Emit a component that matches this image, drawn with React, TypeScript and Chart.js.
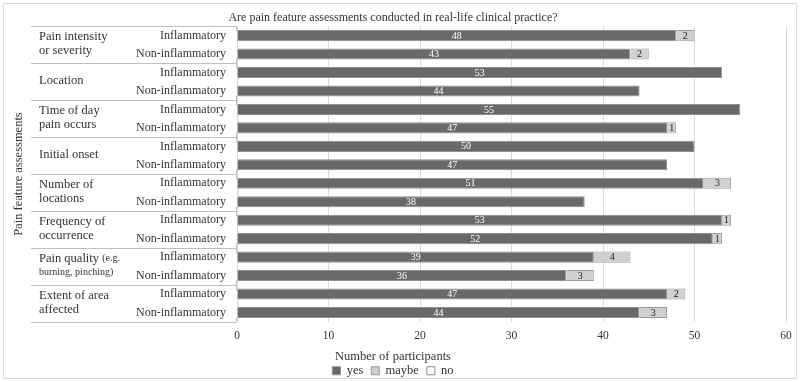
import { useEffect, useRef } from 'react';
import { Chart, registerables } from 'chart.js';

Chart.register(...registerables);

const FONT = "'Liberation Serif', 'Times New Roman', serif";

const chartTitle = 'Are pain feature assessments conducted in real-life clinical practice?';
const axisTitleX = 'Number of participants';
const axisTitleY = 'Pain feature assessments';

const groupLabels: string[][] = [
  ['Pain intensity', 'or severity'],
  ['Location'],
  ['Time of day', 'pain occurs'],
  ['Initial onset'],
  ['Number of', 'locations'],
  ['Frequency of', 'occurrence'],
  ['Pain quality (e.g.', 'burning, pinching)'],
  ['Extent of area', 'affected'],
];
const subgroups = ['Inflammatory', 'Non-inflammatory'];

const yesValues = [48, 43, 53, 44, 55, 47, 50, 47, 51, 38, 53, 52, 39, 36, 47, 44];
const maybeValues = [2, 2, 0, 0, 0, 1, 0, 0, 3, 0, 1, 1, 4, 3, 2, 3];
const noValues = [0, 0, 0, 0, 0, 0, 0, 0, 0, 0, 0, 0, 0, 0, 0, 0];

const xMin = 0;
const xMax = 60;
const xStep = 10;

const rowLabels = groupLabels.flatMap(() => subgroups);

const TEXT = '#333333';

// Draws a label line where text inside parentheses is set in a smaller size
function drawRichLine(
  ctx: CanvasRenderingContext2D,
  line: string,
  x: number,
  y: number,
  state: { paren: boolean },
) {
  let cur = x;
  let buf = '';
  const flush = () => {
    if (!buf) return;
    ctx.font = state.paren ? `10px ${FONT}` : `12.5px ${FONT}`;
    ctx.fillText(buf, cur, y);
    cur += ctx.measureText(buf).width;
    buf = '';
  };
  for (const ch of line) {
    if (ch === '(') {
      flush();
      state.paren = true;
      buf += ch;
    } else if (ch === ')') {
      buf += ch;
      flush();
      state.paren = false;
    } else {
      buf += ch;
    }
  }
  flush();
}

const decorPlugin = {
  id: 'decor',
  beforeDraw(chart: any) {
    const { ctx, width, height } = chart;
    ctx.save();
    ctx.strokeStyle = '#d9d9d9';
    ctx.lineWidth = 1;
    ctx.strokeRect(3.5, 3.5, width - 7, height - 7);
    ctx.restore();
  },
  afterDatasetsDraw(chart: any) {
    const { ctx } = chart;
    ctx.save();
    ctx.font = `10px ${FONT}`;
    ctx.textAlign = 'center';
    ctx.textBaseline = 'middle';
    chart.data.datasets.forEach((ds: any, di: number) => {
      if (di > 1) return;
      const meta = chart.getDatasetMeta(di);
      meta.data.forEach((bar: any, i: number) => {
        const v = ds.data[i];
        if (!v) return;
        const cx = (bar.x + bar.base) / 2;
        ctx.fillStyle = di === 0 ? '#ffffff' : '#222222';
        ctx.fillText(String(v), cx, bar.y + 0.5);
      });
    });
    ctx.restore();
  },
  afterDraw(chart: any) {
    const { ctx, chartArea } = chart;
    const yScale = chart.scales.y;
    const left = 31;
    const right = chartArea.left - 0.5;
    ctx.save();
    ctx.strokeStyle = '#bfbfbf';
    ctx.lineWidth = 1;
    for (let g = 0; g <= groupLabels.length; g++) {
      const y = Math.round(yScale.getPixelForValue(g * 2 - 0.5)) + 0.5;
      ctx.beginPath();
      ctx.moveTo(left, y);
      ctx.lineTo(right, y);
      const t0 = Math.max(y - 5, chartArea.top);
      const t1 = Math.min(y + 5, chartArea.bottom);
      ctx.moveTo(right, t0);
      ctx.lineTo(right, t1);
      ctx.stroke();
    }
    ctx.fillStyle = TEXT;
    ctx.textAlign = 'left';
    ctx.textBaseline = 'middle';
    groupLabels.forEach((lines, g) => {
      const top = yScale.getPixelForValue(g * 2 - 0.5);
      const bottom = yScale.getPixelForValue(g * 2 + 1.5);
      const mid = (top + bottom) / 2 - 1;
      const lh = 14;
      const state = { paren: false };
      lines.forEach((line, li) => {
        const y = mid + (li - (lines.length - 1) / 2) * lh;
        drawRichLine(ctx, line, 39, y, state);
      });
    });
    ctx.restore();
  },
};

export default function App() {
  const canvasRef = useRef<HTMLCanvasElement | null>(null);

  useEffect(() => {
    document.body.style.margin = '0';
    const canvas = canvasRef.current;
    if (!canvas) return;
    const chart = new Chart(canvas, {
      type: 'bar',
      data: {
        labels: rowLabels,
        datasets: [
          {
            label: 'yes',
            data: yesValues,
            backgroundColor: '#696969',
            borderColor: '#8f8f8f',
            borderWidth: 1,
            barPercentage: 0.6,
            categoryPercentage: 1,
          },
          {
            label: 'maybe',
            data: maybeValues,
            backgroundColor: '#d0d0d0',
            borderColor: '#9a9a9a',
            borderWidth: 1,
            barPercentage: 0.6,
            categoryPercentage: 1,
          },
          {
            label: 'no',
            data: noValues,
            backgroundColor: '#ffffff',
            borderColor: '#8a8a8a',
            borderWidth: 1,
            barPercentage: 0.6,
            categoryPercentage: 1,
          },
        ],
      },
      options: {
        indexAxis: 'y',
        animation: false,
        responsive: true,
        maintainAspectRatio: false,
        layout: { padding: { top: 11, right: 14, bottom: -5, left: 0 } },
        font: { family: FONT },
        scales: {
          x: {
            stacked: true,
            min: xMin,
            max: xMax,
            ticks: { stepSize: xStep, color: TEXT, font: { family: FONT, size: 11.5 }, padding: 7 },
            grid: { color: '#d9d9d9', drawTicks: false },
            border: { display: false },
          },
          y: {
            stacked: true,
            ticks: {
              color: TEXT,
              font: { family: FONT, size: 12 },
              padding: 11,
              autoSkip: false,
            },
            grid: { display: false, drawTicks: false },
            border: { display: false },
            title: {
              display: true,
              text: axisTitleY,
              color: TEXT,
              font: { family: FONT, size: 12.5 },
              padding: { top: 11, bottom: 0 },
            },
            afterFit: (scale: any) => {
              scale.width = 237;
            },
          },
        },
        plugins: {
          title: {
            display: true,
            text: chartTitle,
            color: TEXT,
            font: { family: FONT, size: 12, weight: 'normal' },
            padding: { top: 0, bottom: 1 },
          },
          subtitle: {
            display: true,
            text: axisTitleX,
            position: 'bottom',
            weight: 500,
            color: TEXT,
            font: { family: FONT, size: 12.5 },
            padding: { top: 0, bottom: -8 },
          },
          legend: {
            position: 'bottom',
            labels: {
              boxWidth: 8,
              boxHeight: 8,
              color: TEXT,
              font: { family: FONT, size: 12.5 },
              padding: 8,
            },
          },
          tooltip: { enabled: false },
        },
      },
      plugins: [decorPlugin],
    } as any);
    return () => chart.destroy();
  }, []);

  return (
    <div style={{ width: 800, height: 382, position: 'relative' }}>
      <canvas ref={canvasRef} />
    </div>
  );
}
